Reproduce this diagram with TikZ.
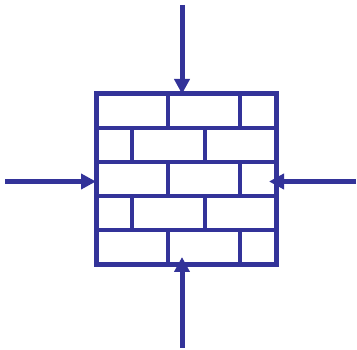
\documentclass[tikz,border=0pt]{standalone}
\usetikzlibrary{arrows.meta}
\definecolor{wallblue}{RGB}{51,51,153}
\tikzset{
  wall/.style={draw=wallblue, line width=4.5pt, line cap=rect},
  force/.style={draw=wallblue, line width=5pt, -{Triangle[length=15pt,width=15pt]}}
}
\begin{document}
\begin{tikzpicture}[x=1pt,y=-1pt]
\useasboundingbox (0,0) rectangle (357,350);
% wall outline and courses
\draw[wall] (96.5,93.5) rectangle (276.5,264.5);
\foreach \y in {128,162,196,230} \draw[wall] (96.5,\y) -- (276.5,\y);
% joints
\foreach \a/\b in {93.5/128,162/196,230/264.5} {
  \draw[wall] (168,\a) -- (168,\b);
  \draw[wall] (240,\a) -- (240,\b);
}
\foreach \a/\b in {128/162,196/230} {
  \draw[wall] (132,\a) -- (132,\b);
  \draw[wall] (205,\a) -- (205,\b);
}
% forces
\coordinate (topT) at (182,5);
\coordinate (topH) at (182,94);
\coordinate (botT) at (182,348);
\coordinate (botH) at (182,257);
\coordinate (lefT) at (5,181.5);
\coordinate (lefH) at (96,181.5);
\coordinate (rigT) at (356,181.5);
\coordinate (rigH) at (269,181.5);
\draw[force] (topT) -- (topH);
\draw[force] (botT) -- (botH);
\draw[force] (lefT) -- (lefH);
\draw[force] (rigT) -- (rigH);
\end{tikzpicture}
\end{document}
